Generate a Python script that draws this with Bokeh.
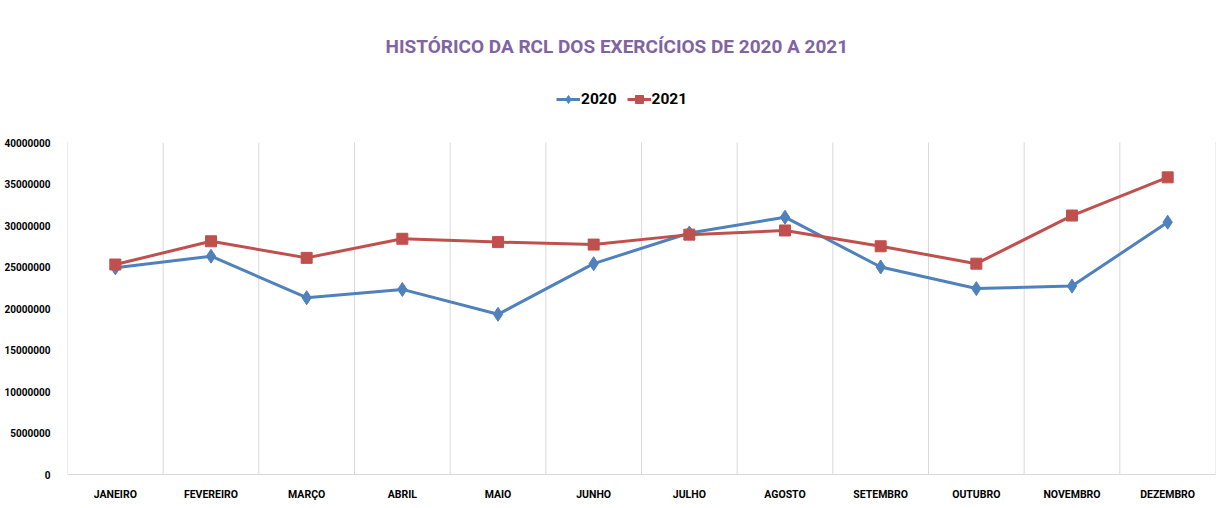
from bokeh.plotting import figure
from bokeh.models import (FixedTicker, Legend, LegendItem, Title, BasicTickFormatter)
from bokeh.embed import file_html
from bokeh.resources import INLINE

months = ["JANEIRO", "FEVEREIRO", "MARÇO", "ABRIL", "MAIO", "JUNHO",
          "JULHO", "AGOSTO", "SETEMBRO", "OUTUBRO", "NOVEMBRO", "DEZEMBRO"]
rcl_2020 = [24900000, 26300000, 21300000, 22300000, 19300000, 25400000,
            29100000, 31000000, 25000000, 22400000, 22700000, 30400000]
rcl_2021 = [25300000, 28100000, 26100000, 28400000, 28000000, 27700000,
            28900000, 29400000, 27500000, 25400000, 31200000, 35800000]
y_ticks = [0, 5000000, 10000000, 15000000, 20000000, 25000000, 30000000, 35000000, 40000000]

FONT = "Roboto"
BLUE = "#4F81BD"
RED = "#C0504D"
GRID = "#d9d9d9"

W, H = 1216, 503
TOP, BOTTOM, LEFT, RIGHT = 68, 29, 67, 1
AXIS_SPAN = 332          # pixel height between 0 and the top tick
frame_h = H - TOP - BOTTOM
y_end = y_ticks[-1] * frame_h / AXIS_SPAN

n = len(months)
xs = [i + 0.5 for i in range(n)]

p = figure(width=W, height=H, x_range=(0, n), y_range=(0, y_end),
           output_backend="svg", toolbar_location=None, title=None,
           min_border_left=LEFT, min_border_right=RIGHT,
           min_border_top=TOP, min_border_bottom=BOTTOM)
p.outline_line_color = None
p.background_fill_color = "white"
p.border_fill_color = "white"

# vertical category separators (limited to the value axis extent)
p.segment(x0=list(range(n + 1)), y0=[0] * (n + 1), x1=list(range(n + 1)),
          y1=[y_ticks[-1]] * (n + 1), line_color=GRID, line_width=1)

l1 = p.line(xs, rcl_2020, line_color=BLUE, line_width=3)
m1 = p.scatter(xs, rcl_2020, marker="diamond", size=14, fill_color=BLUE, line_color=BLUE)
l2 = p.line(xs, rcl_2021, line_color=RED, line_width=3)
m2 = p.scatter(xs, rcl_2021, marker="square", size=11, fill_color=RED, line_color=RED)

# axes
p.xaxis.ticker = FixedTicker(ticks=xs)
p.xaxis.major_label_overrides = {x: m for x, m in zip(xs, months)}
p.xaxis.major_label_text_font = FONT
p.xaxis.major_label_text_font_style = "bold"
p.xaxis.major_label_text_font_size = "10.5px"
p.xaxis.major_label_text_color = "#000000"
p.xaxis.major_label_standoff = 7
p.xaxis.axis_line_color = GRID
p.xaxis.major_tick_line_color = None
p.xaxis.minor_tick_line_color = None

p.yaxis.ticker = FixedTicker(ticks=y_ticks)
p.yaxis.formatter = BasicTickFormatter(use_scientific=False)
p.yaxis.major_label_text_font = FONT
p.yaxis.major_label_text_font_style = "bold"
p.yaxis.major_label_text_font_size = "10px"
p.yaxis.major_label_text_color = "#000000"
p.yaxis.major_label_standoff = 11
p.yaxis.axis_line_color = None
p.yaxis.major_tick_line_color = None
p.yaxis.minor_tick_line_color = None

p.xgrid.grid_line_color = None
p.ygrid.grid_line_color = None

legend = Legend(items=[LegendItem(label="2020", renderers=[l1, m1]),
                       LegendItem(label="2021", renderers=[l2, m2])],
                orientation="horizontal", location=(489, 365),
                label_text_font=FONT, label_text_font_style="bold",
                label_text_font_size="15.5px", label_text_color="#000000",
                glyph_width=24, glyph_height=20, spacing=10, label_standoff=1,
                border_line_color=None, background_fill_alpha=0,
                margin=0, padding=0)
p.add_layout(legend, "center")

title = Title(text="HISTÓRICO DA RCL DOS EXERCÍCIOS DE 2020 A 2021", align="left",
              offset=318, text_font=FONT, text_font_style="bold", text_font_size="19px",
              text_color="#8064A2", standoff=22)
p.add_layout(title, "above")

open("out.html", "w").write(file_html(p, INLINE))
